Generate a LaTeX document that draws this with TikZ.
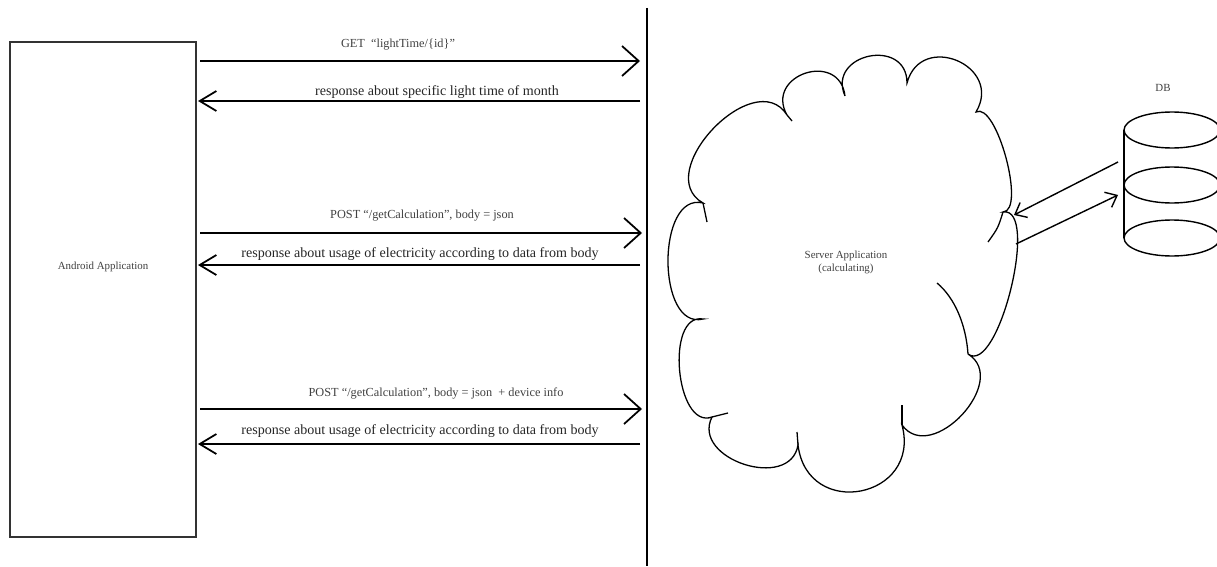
\documentclass[tikz,border=0pt]{standalone}
\usepackage{fontspec}
\setmainfont{Liberation Serif}
\usetikzlibrary{positioning, shapes, arrows.meta}

\begin{document}
\begin{tikzpicture}[x=0.03cm, y=-0.03cm, line width=1.5pt,
  request/.style={-{Straight Barb[length=5mm, width=9mm]}},
  answer/.style={-{Straight Barb[length=5mm, width=6mm]}},
  dblink/.style={line width=1.2pt, -{Straight Barb[length=3mm, width=5mm]}},
  small/.style={font=\fontsize{9.3}{11}\selectfont, text=black!75, inner sep=1pt},
  call/.style={font=\fontsize{10.5}{12}\selectfont, text=black!75, inner sep=1pt},
  big/.style={font=\fontsize{12}{14}\selectfont, text=black!85, inner sep=1pt}]
\useasboundingbox (0,0) rectangle (1217,566);

\node[draw, line width=1.2pt, draw=black!80, minimum width=5.58cm, minimum height=14.85cm] (app) at (103,289.5) {};
\node[small] (applabel) at (103,267) {Android Application};

\coordinate (lifetop) at (647,8);
\coordinate (lifebot) at (647,566);
\draw (lifetop) -- (lifebot);

\coordinate (get1) at (200,61);
\coordinate (get2) at (640,61);
\coordinate (res1) at (640,101);
\coordinate (res2) at (198,101);
\coordinate (post1) at (200,233);
\coordinate (post2) at (642,233);
\coordinate (res3) at (640,265);
\coordinate (res4) at (198,265);
\coordinate (post3) at (200,409);
\coordinate (post4) at (642,409);
\coordinate (res5) at (640,444);
\coordinate (res6) at (198,444);

\draw[request] (get1) -- (get2);
\draw[answer] (res1) -- (res2);
\draw[request] (post1) -- (post2);
\draw[answer] (res3) -- (res4);
\draw[request] (post3) -- (post4);
\draw[answer] (res5) -- (res6);

\node[call] (getlabel) at (398,45) {GET \ ``lightTime/\{id\}''};
\node[big] (reslabel1) at (437,92) {response about specific light time of month};
\node[call] (postlabel1) at (422,216) {POST ``/getCalculation'', body = json};
\node[big] (reslabel2) at (420,254) {response about usage of electricity according to data from body};
\node[call] (postlabel2) at (436,393) {POST ``/getCalculation'', body = json \ + device info};
\node[big] (reslabel3) at (420,431) {response about usage of electricity according to data from body};

\draw[line width=1.1pt] (703,203) .. controls (650.5,173.1) and (754.7,63.9) .. (787,115)
  .. controls (764.2,74.8) and (839.6,50) .. (845,96)
  .. controls (826.4,53.5) and (907,36.7) .. (907,83)
  .. controls (920.8,30.9) and (1003.6,65.7) .. (976,112)
  .. controls (996.5,101.1) and (1026.3,211.1) .. (1003,212)
  .. controls (1040.2,206.1) and (998.2,376.5) .. (968,354)
  .. controls (1010.7,380.5) and (931.5,465.7) .. (902,425)
  .. controls (921.6,498.6) and (807.2,520.6) .. (798,445)
  .. controls (790.3,491.6) and (690.7,459.2) .. (712,417)
  .. controls (675.7,430.2) and (664.9,312.6) .. (703,319)
  .. controls (656.3,330.6) and (656.3,191.4) .. (703,203) -- cycle;
\draw[line width=1.1pt] (703,203) -- (707,222);
\draw[line width=1.1pt] (787,115) -- (792,121);
\draw[line width=1.1pt] (1003,212) .. controls (998,228) .. (988,242);
\draw[line width=1.1pt] (968,354) .. controls (966,325) and (955,298) .. (937,283);
\draw[line width=1.1pt] (902,425) -- (902,405);
\draw[line width=1.1pt] (798,445) -- (797,432);
\draw[line width=1.1pt] (712,417) -- (728,413);
\node[small, align=center] (server) at (846,262) {Server Application\\(calculating)};

\draw[line width=1.2pt] (1172,130) ellipse [x radius=48, y radius=18];
\draw[line width=1.2pt] (1172,185) ellipse [x radius=48, y radius=18];
\draw[line width=1.2pt] (1172,238) ellipse [x radius=48, y radius=18];
\draw[line width=1.2pt] (1124,130) -- (1124,238);
\node[small] (dblabel) at (1163,88) {DB};

\coordinate (dbout) at (1118,162);
\coordinate (srvin) at (1014,215);
\coordinate (srvout) at (1016,244);
\coordinate (dbin) at (1118,195);
\draw[dblink] (dbout) -- (srvin);
\draw[dblink] (srvout) -- (dbin);
\end{tikzpicture}
\end{document}
